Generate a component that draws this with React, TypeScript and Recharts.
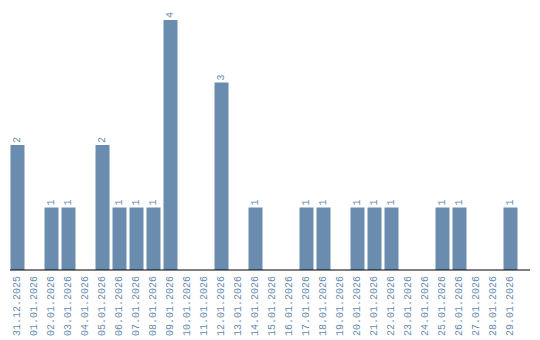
import React from "react";
import { BarChart, Bar, XAxis, YAxis, LabelList } from "recharts";

const dates = [
  "31.12.2025", "01.01.2026", "02.01.2026", "03.01.2026", "04.01.2026",
  "05.01.2026", "06.01.2026", "07.01.2026", "08.01.2026", "09.01.2026",
  "10.01.2026", "11.01.2026", "12.01.2026", "13.01.2026", "14.01.2026",
  "15.01.2026", "16.01.2026", "17.01.2026", "18.01.2026", "19.01.2026",
  "20.01.2026", "21.01.2026", "22.01.2026", "23.01.2026", "24.01.2026",
  "25.01.2026", "26.01.2026", "27.01.2026", "28.01.2026", "29.01.2026",
];
const counts = [
  2, 0, 1, 1, 0, 2, 1, 1, 1, 4,
  0, 0, 3, 0, 1, 0, 0, 1, 1, 0,
  1, 1, 1, 0, 0, 1, 1, 0, 0, 1,
];

const data = dates.map((date, i) => ({ date, count: counts[i] }));

const blue = "#6a8cae";
const font = "'Liberation Mono', monospace";

const DateTick = (props: any) => {
  const { x, y, payload } = props;
  return (
    <text
      x={0}
      y={0}
      transform={`translate(${x},${y - 2}) rotate(-90)`}
      textAnchor="end"
      dominantBaseline="central"
      fill={blue}
      fontSize={10}
      fontFamily={font}
    >
      {payload.value}
    </text>
  );
};

const ValueLabel = (props: any) => {
  const { x, y, width, value } = props;
  if (!value) return null;
  const cx = x + width / 2;
  return (
    <text
      x={0}
      y={0}
      transform={`translate(${cx},${y - 2}) rotate(-90)`}
      textAnchor="start"
      dominantBaseline="central"
      fill={blue}
      fontSize={10}
      fontFamily={font}
    >
      {value}
    </text>
  );
};

export default function App() {
  return (
    <div style={{ position: "absolute", left: 0, top: 0, background: "#fff" }}>
      <BarChart
        width={540}
        height={340}
        data={data}
        margin={{ top: 10, right: 10, left: 10, bottom: 0 }}
      >
        <XAxis
          dataKey="date"
          interval={0}
          height={70}
          padding={{ left: -1.5, right: 11.5 }}
          axisLine={{ stroke: "#000" }}
          tickLine={false}
          tick={<DateTick />}
        />
        <YAxis
          width={0}
          domain={[0, 4]}
          padding={{ top: 10 }}
          axisLine={{ stroke: "#000" }}
          tickLine={false}
          tick={false}
        />
        <Bar dataKey="count" fill={blue} barSize={14} isAnimationActive={false}>
          <LabelList dataKey="count" content={<ValueLabel />} />
        </Bar>
      </BarChart>
    </div>
  );
}
